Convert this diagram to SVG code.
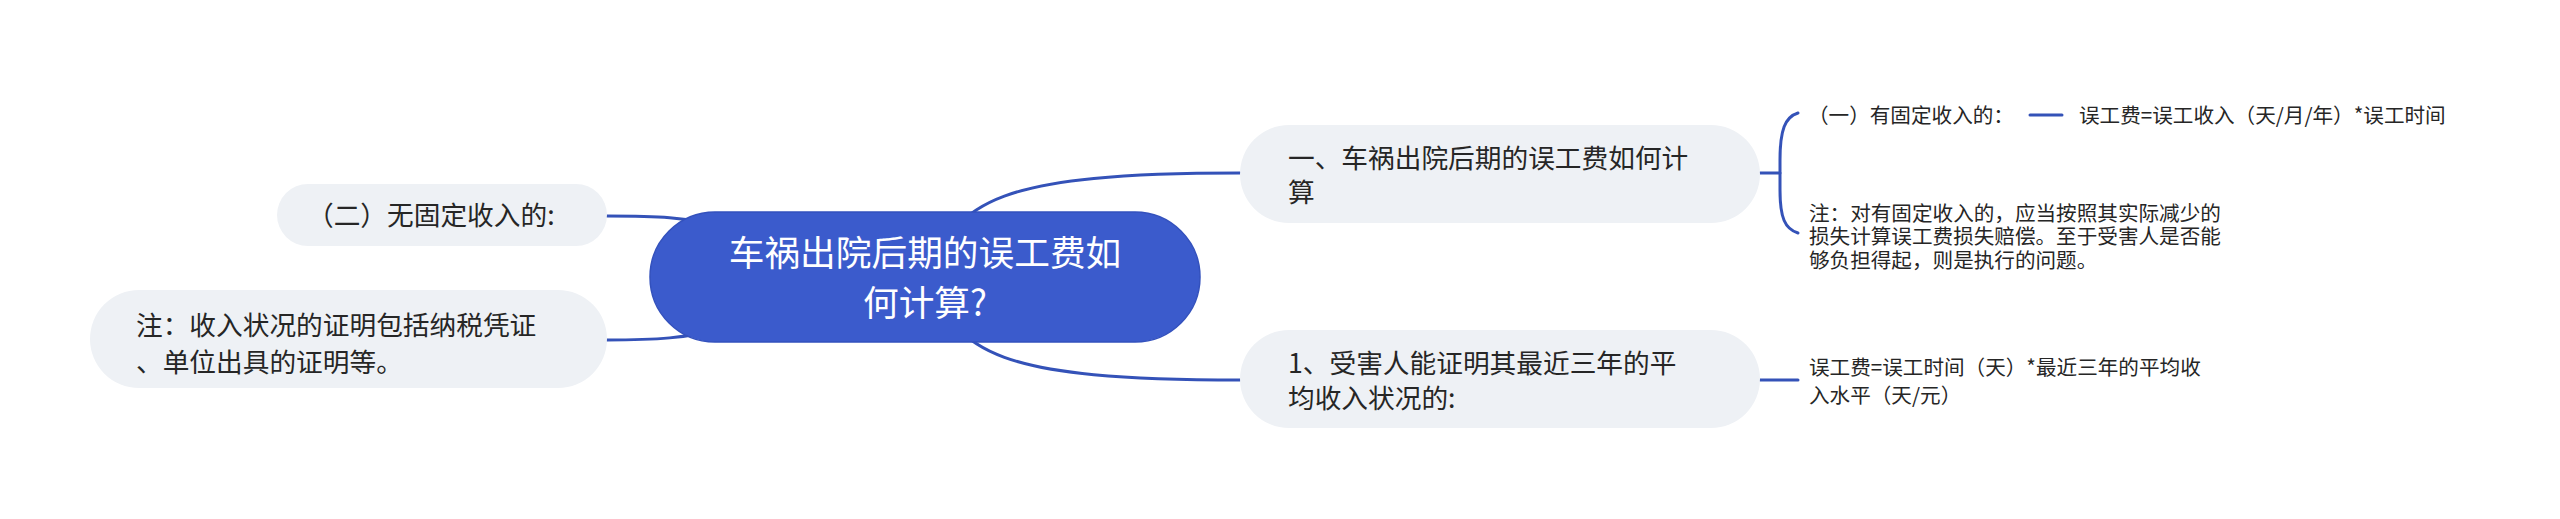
<svg xmlns="http://www.w3.org/2000/svg" width="2560" height="519" viewBox="0 0 2560 519">
<style>
.conn{fill:none;stroke:#3452b8;stroke-width:3;stroke-linecap:round}
.node{fill:#eef1f5}
.root{fill:#3b5bcc;stroke:#3351bd;stroke-width:1.5}
.t{font-family:"Noto Sans CJK SC","Noto Sans",sans-serif;fill:#262626}
.m{font-size:26.7px}
.s{font-size:20.6px}
.r{font-size:35.7px;fill:#ffffff;text-anchor:middle}
</style>
<rect width="2560" height="519" fill="#ffffff"/>
<g id="connectors">
<path class="conn" d="M930 277 C955 200 1000 173 1240 173"/>
<path class="conn" d="M930 277 C955 354 1000 380 1240 380"/>
<path class="conn" d="M607 216 C650 216 690 216 730 230"/>
<path class="conn" d="M607 340 C650 340 690 339 730 326"/>
<path class="conn" d="M1760 173 H1780"/>
<path class="conn" d="M1798 113 C1785 117 1780 130 1780 160 V190 C1780 218 1785 229 1798 233"/>
<path class="conn" d="M2030 115 H2062"/>
<path class="conn" d="M1760 380 H1798"/>
</g>
<g id="root">
<rect class="root" x="650" y="212" width="550" height="130" rx="65"/>
<text class="t r" x="925" y="266">车祸出院后期的误工费如</text>
<text class="t r" x="925" y="316">何计算?</text>
</g>
<g id="nodeA">
<rect class="node" x="1240" y="125" width="520" height="98" rx="49"/>
<text class="t m" x="1288" y="167.6">一、车祸出院后期的误工费如何计</text>
<text class="t m" x="1288" y="201.6">算</text>
</g>
<g id="nodeB">
<rect class="node" x="1240" y="330" width="520" height="98" rx="49"/>
<text class="t m" x="1288" y="372.6">1、受害人能证明其最近三年的平</text>
<text class="t m" x="1288" y="407.6">均收入状况的:</text>
</g>
<g id="left1">
<rect class="node" x="277" y="184" width="330" height="62" rx="31"/>
<text class="t m" x="307" y="225">（二）无固定收入的:</text>
</g>
<g id="left2">
<rect class="node" x="90" y="290" width="517" height="98" rx="49"/>
<text class="t m" x="136" y="334.6">注：收入状况的证明包括纳税凭证</text>
<text class="t m" x="136" y="371.6">、单位出具的证明等。</text>
</g>
<g id="fixed">
<text class="t s" x="1808" y="122.5">（一）有固定收入的：</text>
</g>
<g id="formula1">
<text class="t s" x="2079" y="122.5">误工费=误工收入（天/月/年）*误工时间</text>
</g>
<g id="note1">
<text class="t s" x="1809" y="220.5">注：对有固定收入的，应当按照其实际减少的</text>
<text class="t s" x="1809" y="244">损失计算误工费损失赔偿。至于受害人是否能</text>
<text class="t s" x="1809" y="267.5">够负担得起，则是执行的问题。</text>
</g>
<g id="formula2">
<text class="t s" x="1809" y="374.5">误工费=误工时间（天）*最近三年的平均收</text>
<text class="t s" x="1809" y="402.5">入水平（天/元）</text>
</g>
</svg>
